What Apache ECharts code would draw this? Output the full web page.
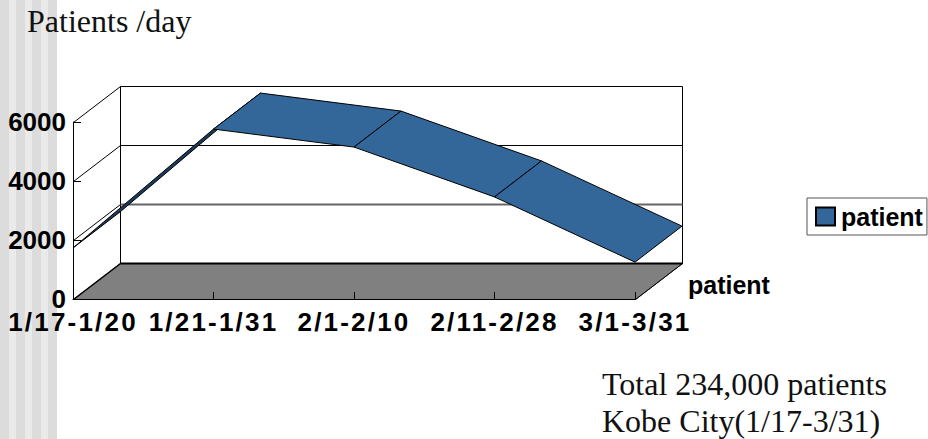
<!DOCTYPE html>
<html>
<head>
<meta charset="utf-8">
<style>
  html, body { margin: 0; padding: 0; background: #fff; }
  #main { width: 928px; height: 439px; }
</style>
<script src="https://cdn.jsdelivr.net/npm/echarts@6/dist/echarts.min.js"></script>
</head>
<body>
<div id="main"></div>
<script>
  var categories = ['1/17-1/20', '1/21-1/31', '2/1-2/10', '2/11-2/28', '3/1-3/31'];
  var patient = [1730, 5760, 5150, 3460, 1250];
  var yTicks = [0, 2000, 4000, 6000];

  var DX = 47;
  var DY = -36;
  var BLUE = '#336699';
  var DARK = '#1c3a5c';

  var chart = echarts.init(document.getElementById('main'), null, {renderer: 'svg'});

  function crisp(p) {
    return [Math.round(p[0]) + 0.5, Math.round(p[1]) + 0.5];
  }
  function back(p) {
    return [p[0] + DX, p[1] + DY];
  }
  function line(a, b, width, color) {
    return {
      type: 'line',
      shape: {x1: a[0], y1: a[1], x2: b[0], y2: b[1]},
      style: {stroke: color || '#000', lineWidth: width || 1}
    };
  }

  // floor, left wall, back wall and grid lines, all hung off the front axes
  function renderBox(params, api) {
    var last = categories.length - 1;
    var top = yTicks[yTicks.length - 1];
    var f0 = crisp(api.coord([0, 0]));
    var f1 = crisp(api.coord([last, 0]));
    var t0 = crisp(api.coord([0, top]));
    var t1 = crisp(api.coord([last, top]));
    var kids = [
      {
        type: 'polygon',
        shape: {points: [f0, f1, back(f1), back(f0)]},
        style: {fill: '#808080', stroke: '#333', lineWidth: 1}
      },
      line(back(f0), back(t0)),
      line(back(f1), back(t1)),
      line(back(t0), back(t1)),
      line(t0, back(t0)),
      line(f0, back(f0), 1.5),
      line(back(f0), back(f1), 2),
      line(f1, back(f1))
    ];
    yTicks.slice(1, -1).forEach(function (v) {
      var a = crisp(api.coord([0, v]));
      var b = crisp(api.coord([last, v]));
      var low = v === yTicks[1];
      kids.push(line(a, back(a)));
      kids.push(line(back(a), back(b), low ? 2 : 1, low ? '#666' : '#000'));
    });
    return {type: 'group', children: kids};
  }

  // one ribbon panel per pair of neighbouring values
  function renderRibbon(params, api) {
    var i = api.value(0);
    var a = api.coord([i, api.value(1)]);
    var b = api.coord([i + 1, api.value(2)]);
    return {
      type: 'polygon',
      shape: {points: [a, b, back(b), back(a)]},
      style: {fill: i === 0 ? DARK : BLUE, stroke: '#000', lineWidth: 1}
    };
  }

  var panels = [];
  for (var i = 0; i < patient.length - 1; i++) {
    panels.push([i, patient[i], patient[i + 1]]);
  }

  var stripes = [{
    type: 'rect', z: -20,
    shape: {x: 0, y: 0, width: 57, height: 439},
    style: {fill: '#eaeaea'}
  }];
  [0, 16, 32, 48].forEach(function (x) {
    stripes.push({
      type: 'rect', z: -19,
      shape: {x: x, y: 0, width: 9, height: 439},
      style: {fill: '#dcdcdc'}
    });
  });

  function serifText(x, y, text) {
    return {
      type: 'text', x: x, y: y, z: 20,
      style: {text: text, fill: '#111', font: '32px "Liberation Serif"'}
    };
  }

  chart.setOption({
    animation: false,
    backgroundColor: '#fff',
    textStyle: {fontFamily: 'Liberation Sans'},
    grid: {left: 73, right: 293, top: 122, bottom: 140},
    xAxis: {
      type: 'category',
      boundaryGap: false,
      data: categories,
      z: 10,
      axisLine: {lineStyle: {color: '#000', width: 1}},
      axisTick: {show: true, inside: true, length: 7, lineStyle: {color: '#000'}},
      axisLabel: {
        margin: 10, interval: 0, color: '#000', fontSize: 26, fontWeight: 'bold',
        fontFamily: 'Liberation Sans', hideOverlap: false
      },
      splitLine: {show: false}
    },
    yAxis: {
      type: 'value',
      min: 0,
      max: 6000,
      interval: 2000,
      z: 10,
      axisLine: {show: true, lineStyle: {color: '#000', width: 1}},
      axisTick: {show: true, inside: true, length: 8, lineStyle: {color: '#000'}},
      axisLabel: {
        margin: 7, color: '#000', fontSize: 26, fontWeight: 'bold',
        fontFamily: 'Liberation Sans', padding: [4, 0, 0, 0],
        formatter: function (v) { return String(v); }
      },
      splitLine: {show: false}
    },
    legend: {
      data: [{name: 'patient', icon: 'rect'}],
      left: 807,
      top: 198,
      padding: [6, 4, 6, 8],
      itemWidth: 19,
      itemHeight: 18,
      itemGap: 0,
      borderColor: '#555',
      borderWidth: 1,
      selectedMode: false,
      textStyle: {color: '#000', fontSize: 25, fontWeight: 'bold', fontFamily: 'Liberation Sans', padding: [0, 0, 0, 1]}
    },
    graphic: stripes.concat([
      serifText(27, 4.5, 'Patients /day'),
      serifText(602, 367.5, 'Total 234,000 patients'),
      serifText(602, 404.5, 'Kobe City(1/17-3/31)'),
      {
        type: 'text', x: 688, y: 272, z: 20,
        style: {text: 'patient', fill: '#000', font: 'bold 25px "Liberation Sans"'}
      }
    ]),
    series: [
      {
        type: 'custom',
        name: 'box',
        z: 1,
        silent: true,
        coordinateSystem: 'cartesian2d',
        data: [[0, 0]],
        renderItem: renderBox
      },
      {
        type: 'custom',
        name: 'patient',
        z: 3,
        coordinateSystem: 'cartesian2d',
        itemStyle: {color: BLUE, borderColor: '#000', borderWidth: 1},
        encode: {x: 0, y: 1},
        data: panels,
        renderItem: renderRibbon
      }
    ]
  });

  // the original x labels are spaced out wider than the font's own metrics
  function spaceLabels() {
    var nodes = document.querySelectorAll('#main text');
    for (var n = 0; n < nodes.length; n++) {
      if (categories.indexOf(nodes[n].textContent) >= 0) {
        nodes[n].setAttribute('letter-spacing', '2.2');
      }
    }
  }
  chart.on('finished', spaceLabels);
  spaceLabels();
</script>
</body>
</html>
